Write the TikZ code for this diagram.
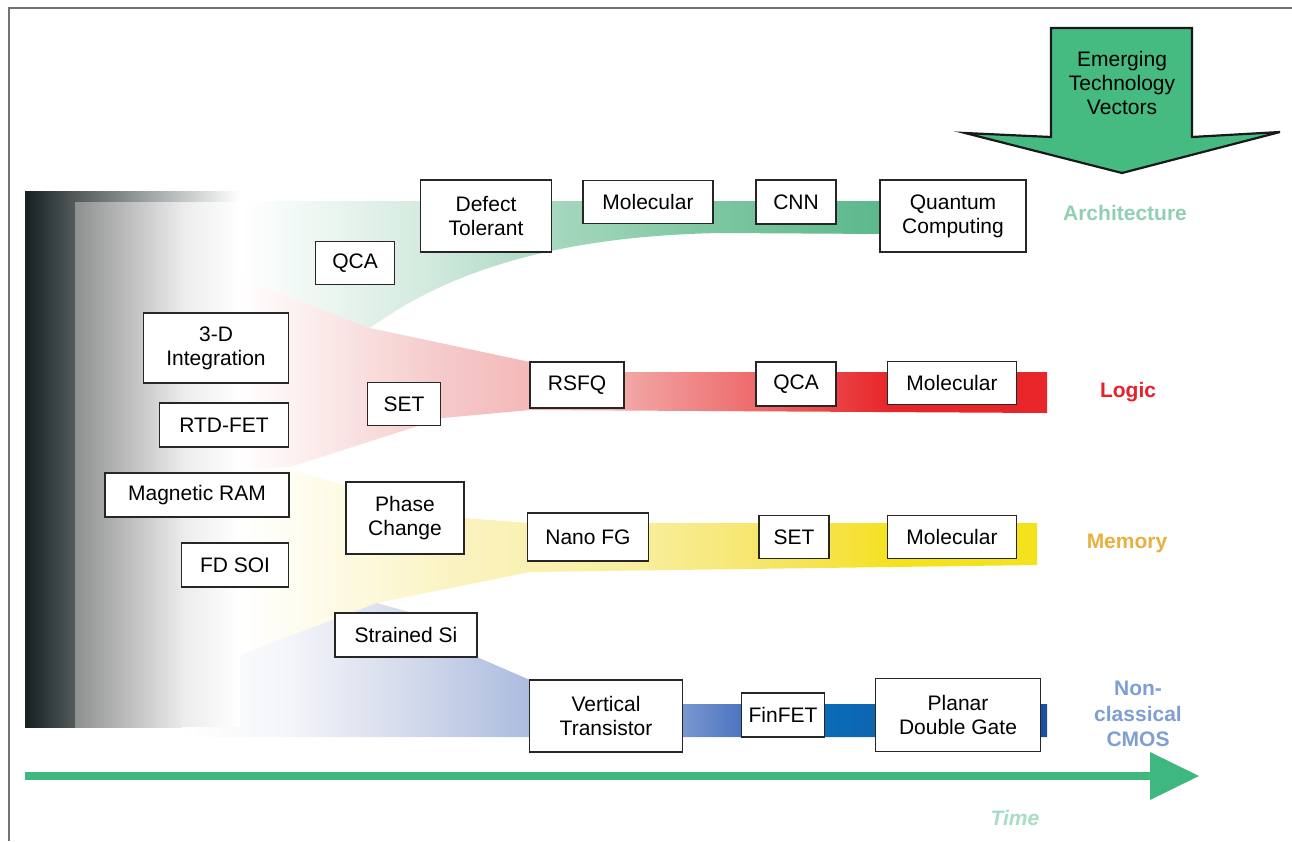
\documentclass[tikz,border=0pt]{standalone}
\usepackage{fontspec}
\setmainfont{Liberation Sans}
\definecolor{gA}{HTML}{F4FAF7}
\definecolor{gB}{HTML}{D5EBE0}
\definecolor{gC}{HTML}{A6D8BF}
\definecolor{gD}{HTML}{7CC6A0}
\definecolor{gE}{HTML}{5CB88C}
\definecolor{rA}{HTML}{FDF2F2}
\definecolor{rB}{HTML}{F5CACA}
\definecolor{rC}{HTML}{F2A6A6}
\definecolor{rD}{HTML}{EE6A6A}
\definecolor{rE}{HTML}{E8262A}
\definecolor{yA}{HTML}{FEFDF2}
\definecolor{yB}{HTML}{FAF3C0}
\definecolor{yC}{HTML}{F8EE9A}
\definecolor{yD}{HTML}{F6E35A}
\definecolor{yE}{HTML}{F4E21C}
\definecolor{bA}{HTML}{F4F5FA}
\definecolor{bB}{HTML}{D6DCEC}
\definecolor{bC}{HTML}{7A96CF}
\definecolor{bD}{HTML}{4A75C1}
\definecolor{bE}{HTML}{0A6CB7}
\definecolor{bF}{HTML}{1E4EA0}
\definecolor{darkL}{HTML}{172022}
\definecolor{darkR}{HTML}{525A5A}
\definecolor{grayL}{HTML}{8E9090}
\definecolor{arrowgreen}{HTML}{45BB82}
\definecolor{timegreen}{HTML}{3FB87F}
\definecolor{archc}{HTML}{8FD0B3}
\definecolor{logicc}{HTML}{E8202A}
\definecolor{memc}{HTML}{E8B040}
\definecolor{cmosc}{HTML}{7F9FD4}
\definecolor{timec}{HTML}{A8DCC4}
\begin{document}
\begin{tikzpicture}[x=1pt,y=-1pt,
  bx/.style={draw=black!85, line width=1.8pt, fill=white, inner sep=0pt, align=center,
    font=\fontsize{21}{24}\selectfont},
  cat/.style={font=\fontsize{21}{25.5}\selectfont\bfseries, align=center}]
\useasboundingbox (0,0) rectangle (1292,841);
% frame
\draw[black!55, line width=1.2pt] (1292,8) -- (9,8) -- (9,841);
% gray gradient block
\shade[left color=darkL, right color=darkR] (25,191) rectangle (75,727);
\shade[left color=grayL, right color=black!25] (75,201) rectangle (130,727);
\shade[left color=black!25, right color=black!7] (130,201) rectangle (185,727);
\shade[left color=black!7, right color=white] (185,201) rectangle (240,727);
\shade[left color=darkR, right color=white] (75,191) rectangle (240,201);
% green fan
\begin{scope}
\clip (240,201) -- (885,201) -- (885,234) -- (720,233)
  .. controls (560,236) and (450,270) .. (370,328) -- (240,278) -- cycle;
\shade[left color=white, right color=gA] (239,195) rectangle (290,340);
\shade[left color=gA, right color=gB] (290,195) rectangle (420,340);
\shade[left color=gB, right color=gC] (420,195) rectangle (552,340);
\shade[left color=gC, right color=gD] (552,195) rectangle (713,340);
\shade[left color=gD, right color=gE] (713,195) rectangle (886,340);
\end{scope}
% red fan
\begin{scope}
\clip (240,278) -- (370,328) -- (530,362) -- (530,372) -- (1047,372) -- (1047,413)
  -- (530,410) -- (443,418) -- (290,467) -- (240,470) -- cycle;
\shade[left color=white, right color=rA] (239,270) rectangle (290,480);
\shade[left color=rA, right color=rB] (290,270) rectangle (440,480);
\shade[left color=rB, right color=rC] (440,270) rectangle (625,480);
\shade[left color=rC, right color=rD] (625,270) rectangle (756,480);
\shade[left color=rD, right color=rE] (756,270) rectangle (888,480);
\fill[rE] (888,270) rectangle (1048,480);
\end{scope}
% yellow fan
\begin{scope}
\clip (240,470) -- (290,470) -- (463,518) -- (530,523) -- (1037,523) -- (1037,565)
  -- (530,572) -- (377,603) -- (240,655) -- cycle;
\shade[left color=white, right color=yA] (239,465) rectangle (290,660);
\shade[left color=yA, right color=yB] (290,465) rectangle (460,660);
\shade[left color=yB, right color=yC] (460,465) rectangle (649,660);
\shade[left color=yC, right color=yD] (649,465) rectangle (800,660);
\shade[left color=yD, right color=yE] (800,465) rectangle (900,660);
\fill[yE] (900,465) rectangle (1038,660);
\end{scope}
% blue fan
\begin{scope}
\clip (240,655) -- (377,603) -- (420,615) -- (477,657) -- (530,680) -- (600,704)
  -- (1047,704) -- (1047,737) -- (182,737) -- (182,727) -- (240,727) -- cycle;
\shade[left color=white, right color=bA] (180,598) rectangle (290,740);
\shade[left color=bA, right color=bB] (290,598) rectangle (400,740);
\shade[left color=bB, right color=bC] (400,598) rectangle (683,740);
\shade[left color=bC, right color=bD] (683,598) rectangle (742,740);
\shade[left color=bD, right color=bE] (742,598) rectangle (825,740);
\shade[left color=bE, right color=bF] (825,598) rectangle (1048,740);
\end{scope}
% boxes: architecture
\node[bx, minimum width=131, minimum height=72] (dt) at (486,216) {Defect\\Tolerant};
\node[bx, minimum width=130, minimum height=43] (mola) at (648,202) {Molecular};
\node[bx, minimum width=80, minimum height=44] (cnn) at (796,202) {CNN};
\node[bx, minimum width=146, minimum height=72] (qc) at (953,216) {Quantum\\Computing};
\node[bx, minimum width=79, minimum height=43] (qcaa) at (355,263) {QCA};
% logic
\node[bx, minimum width=145, minimum height=70] (int3d) at (216,348) {3-D\\Integration};
\node[bx, minimum width=129, minimum height=44] (rtd) at (224,425) {RTD-FET};
\node[bx, minimum width=73, minimum height=43] (setl) at (404,404) {SET};
\node[bx, minimum width=94, minimum height=46] (rsfq) at (577,385) {RSFQ};
\node[bx, minimum width=80, minimum height=44] (qcal) at (796,384) {QCA};
\node[bx, minimum width=129, minimum height=43] (moll) at (952,383) {Molecular};
% memory
\node[bx, minimum width=184, minimum height=44] (mram) at (197,495) {Magnetic RAM};
\node[bx, minimum width=118, minimum height=72] (pc) at (405,518) {Phase\\Change};
\node[bx, minimum width=107, minimum height=44] (fdsoi) at (235,565) {FD SOI};
\node[bx, minimum width=121, minimum height=48] (nfg) at (588,537) {Nano FG};
\node[bx, minimum width=70, minimum height=43] (setm) at (794,537) {SET};
\node[bx, minimum width=129, minimum height=43] (molm) at (952,537) {Molecular};
% cmos
\node[bx, minimum width=142, minimum height=44] (ssi) at (406,635) {Strained Si};
\node[bx, minimum width=153, minimum height=72] (vt) at (606,716) {Vertical\\Transistor};
\node[bx, minimum width=83, minimum height=44] (fin) at (783,715) {FinFET};
\node[bx, minimum width=165, minimum height=73] (pdg) at (958,715) {Planar\\Double Gate};
% category labels
\node[cat, text=archc] (larch) at (1125,213) {Architecture};
\node[cat, text=logicc] (llog) at (1128,392) {Logic};
\node[cat, text=memc] (lmem) at (1127,543) {Memory};
\node[cat, text=cmosc] (lcmos) at (1138,714) {Non-\\classical\\CMOS};
% emerging technology vectors arrow
\draw[fill=arrowgreen, draw=black!90, line width=2.2pt, line join=miter]
  (1051,28) -- (1192,28) -- (1192,137) -- (1280,132) -- (1122,173)
  -- (965,133) -- (1051,137) -- cycle;
\node[font=\fontsize{21}{24}\selectfont, align=center] (etv) at (1122,83)
  {Emerging\\Technology\\Vectors};
% time arrow
\coordinate (t0) at (25,776);
\coordinate (t1) at (1152,776);
\draw[timegreen, line width=8pt] (t0) -- (t1);
\fill[timegreen] (1150,752) -- (1199,776) -- (1150,800) -- cycle;
\node[font=\fontsize{21}{24}\selectfont\bfseries\itshape, text=timec] (ltime) at (1015,818) {Time};
\end{tikzpicture}
\end{document}
